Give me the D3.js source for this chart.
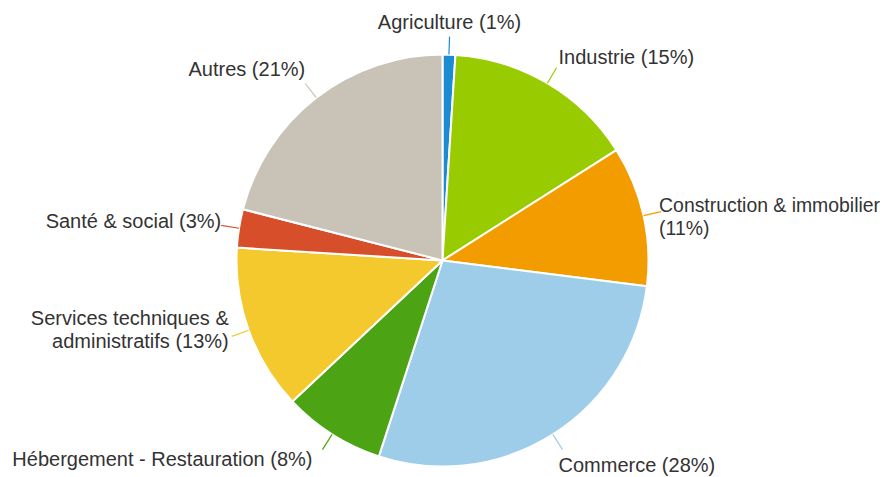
<!DOCTYPE html>
<html>
<head>
<meta charset="utf-8">
<script src="https://cdn.jsdelivr.net/npm/d3@7"></script>
<style>
  html, body { margin: 0; padding: 0; background: #fff; }
  svg { display: block; }
  text { font-family: "Liberation Sans", Arial, sans-serif; font-size: 20px; fill: #333; }
</style>
</head>
<body>
<svg id="chart" width="885" height="477"></svg>
<script>
// ---- data ----
const categories = [
  "Agriculture", "Industrie", "Construction & immobilier", "Commerce",
  "Hébergement - Restauration", "Services techniques & administratifs",
  "Santé & social", "Autres"
];
const values = [1, 15, 11, 28, 8, 13, 3, 21];
const labelLines = [
  ["Agriculture (1%)"],
  ["Industrie (15%)"],
  ["Construction & immobilier", "(11%)"],
  ["Commerce (28%)"],
  ["Hébergement - Restauration (8%)"],
  ["Services techniques &", "administratifs (13%)"],
  ["Santé & social (3%)"],
  ["Autres (21%)"]
];
const colors = ["#1b8cd2", "#99cc00", "#f39c00", "#9ecdea", "#4ca314", "#f3c92e", "#d64f2a", "#c9c3b7"];

// ---- label layout (offsets from connector end) ----
const labelLayout = [
  { anchor: "middle", dx: 0,  dy: -8 },
  { anchor: "start",  dx: 2,  dy: -4 },
  { anchor: "start",  dx: -2, dy: 0, fs: 19.4 },
  { anchor: "start",  dx: -4, dy: 22 },
  { anchor: "end",    dx: -10, dy: 16 },
  { anchor: "end",    dx: -3, dy: -11 },
  { anchor: "end",    dx: 0,  dy: 3 },
  { anchor: "end",    dx: 0,  dy: -8 }
];

const cx = 442.5, cy = 260.5, r = 206, lineLen = 18, lineH = 23;

const svg = d3.select("#chart");
const g = svg.append("g").attr("transform", `translate(${cx},${cy})`);

const pie = d3.pie().sort(null).value(d => d.value);
const arcs = pie(values.map((v, i) => ({ value: v, i })));
const arc = d3.arc().innerRadius(0).outerRadius(r);

g.selectAll("path.slice")
  .data(arcs)
  .join("path")
  .attr("class", "slice")
  .attr("d", arc)
  .attr("fill", d => colors[d.data.i])
  .attr("stroke", "#fff")
  .attr("stroke-width", 2)
  .attr("stroke-linejoin", "round");

function pt(a, rad) { return [Math.sin(a) * rad, -Math.cos(a) * rad]; }

arcs.forEach(d => {
  const i = d.data.i;
  const a = (d.startAngle + d.endAngle) / 2;
  const p0 = pt(a, r), p1 = pt(a, r + lineLen);
  g.append("line")
    .attr("x1", p0[0]).attr("y1", p0[1])
    .attr("x2", p1[0]).attr("y2", p1[1])
    .attr("stroke", colors[i])
    .attr("stroke-width", 1.2);
  const L = labelLayout[i];
  const t = g.append("text")
    .attr("x", p1[0] + L.dx)
    .attr("y", p1[1] + L.dy)
    .attr("text-anchor", L.anchor);
  if (L.fs) t.style("font-size", L.fs + "px");
  labelLines[i].forEach((s, k) => {
    t.append("tspan")
      .attr("x", p1[0] + L.dx)
      .attr("dy", k === 0 ? 0 : lineH)
      .text(s);
  });
});
</script>
</body>
</html>
